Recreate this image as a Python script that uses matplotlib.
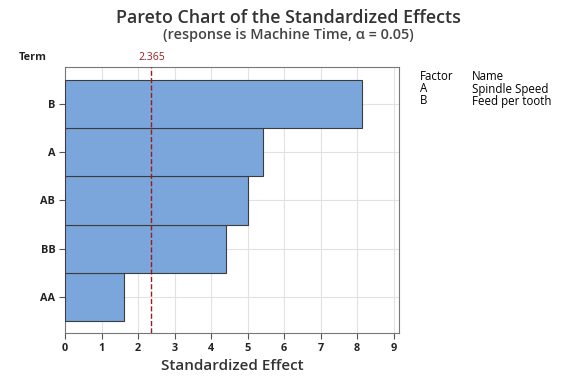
import matplotlib.pyplot as plt

terms = ['AA', 'BB', 'AB', 'A', 'B']
effects = [1.62, 4.40, 5.01, 5.42, 8.14]
crit = 2.365
factors = ['A', 'B']
names = ['Spindle Speed', 'Feed per tooth']

plt.rcParams['font.family'] = ['Open Sans', 'DejaVu Sans']

fig = plt.figure(figsize=(5.76, 3.84), dpi=100)
ax = fig.add_axes([65 / 576, 1 - 333 / 384, 334 / 576, 266 / 384])

ax.barh(range(len(terms)), effects, height=1.0, color='#7ba6db',
        edgecolor='#3c3c3c', linewidth=0.8, zorder=3)
ax.axvline(crit, color='#9b1c1c', ls='--', lw=1, zorder=4)
ax.text(crit, 4.85, f'{crit}', color='#9b1c1c', fontsize=7.5, ha='center', va='bottom')

ax.set_xlim(0, 9.15)
ax.set_ylim(-0.75, 4.77)
ax.set_xticks(range(10))
ax.set_yticks(range(len(terms)))
ax.set_yticklabels(terms)
for lab in ax.get_xticklabels() + ax.get_yticklabels():
    lab.set_fontweight('bold')
    lab.set_fontsize(7.8)
    lab.set_color('#222222')
ax.tick_params(length=4, color='#555555', pad=3)
ax.grid(True, color='#e2e2e2', lw=0.8, zorder=0)
for s in ax.spines.values():
    s.set_color('#777777')

ax.set_xlabel('Standardized Effect', fontsize=11, fontweight='semibold',
              color='#333333', labelpad=4)
fig.text(33 / 576, 1 - 57 / 384, 'Term', fontsize=7.8, fontweight='bold',
         color='#222222', ha='center', va='center')

fig.text(0.5, 1 - 18 / 384, 'Pareto Chart of the Standardized Effects', fontsize=12.9,
         fontweight='semibold', color='#333333', ha='center', va='center')
fig.text(0.5, 1 - 35 / 384, '(response is Machine Time, α = 0.05)', fontsize=10.4,
         fontweight='semibold', color='#444444', ha='center', va='center')

fig.text(420 / 576, 1 - 77 / 384, 'Factor', fontsize=8.3, va='center')
fig.text(472 / 576, 1 - 77 / 384, 'Name', fontsize=8.3, va='center')
for i, (f, n) in enumerate(zip(factors, names)):
    y = 1 - (89 + 12 * i) / 384
    fig.text(420 / 576, y, f, fontsize=8.3, va='center')
    fig.text(472 / 576, y, n, fontsize=8.3, va='center')

fig.savefig('out.png', dpi=100)
